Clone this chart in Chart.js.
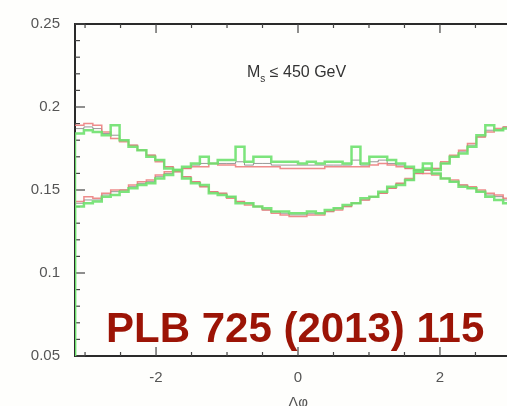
<!DOCTYPE html>
<html>
<head>
<meta charset="utf-8">
<script src="https://cdn.jsdelivr.net/npm/chart.js"></script>
<style>
html, body { margin: 0; padding: 0; background: #fefefc; overflow: hidden; }
#wrap { width: 507px; height: 406px; overflow: hidden; }
</style>
</head>
<body>
<div id="wrap"><canvas id="myChart" width="530" height="406"></canvas></div>
<script>
// delta phi histograms, 50 bins from -pi to pi
var nBins = 50;
var xTicks = [-2, 0, 2];
var yTicks = [0.05, 0.1, 0.15, 0.2, 0.25];

// U shaped distribution (high at |dphi| ~ pi)
var uGreen = [0.184, 0.186, 0.185, 0.183, 0.189, 0.180, 0.176, 0.174, 0.170, 0.168, 0.163, 0.162, 0.157, 0.154, 0.153, 0.148, 0.147, 0.146, 0.142, 0.142, 0.140, 0.139, 0.137, 0.137, 0.136,
              0.136, 0.137, 0.136, 0.138, 0.139, 0.141, 0.142, 0.145, 0.146, 0.149, 0.152, 0.153, 0.156, 0.161, 0.163, 0.162, 0.166, 0.170, 0.172, 0.176, 0.183, 0.189, 0.186, 0.187, 0.188];
var uRed = [0.189, 0.190, 0.189, 0.185, 0.181, 0.179, 0.177, 0.174, 0.171, 0.167, 0.164, 0.161, 0.158, 0.155, 0.152, 0.149, 0.148, 0.145, 0.143, 0.141, 0.140, 0.138, 0.136, 0.135, 0.134,
            0.134, 0.135, 0.135, 0.137, 0.138, 0.140, 0.142, 0.144, 0.146, 0.148, 0.151, 0.154, 0.157, 0.160, 0.162, 0.163, 0.167, 0.171, 0.174, 0.178, 0.182, 0.185, 0.187, 0.188, 0.189];
var uBlack = [0.187, 0.188, 0.187, 0.184, 0.183, 0.180, 0.177, 0.174, 0.171, 0.168, 0.164, 0.161, 0.158, 0.155, 0.152, 0.149, 0.148, 0.146, 0.143, 0.142, 0.140, 0.138, 0.137, 0.136, 0.135,
              0.135, 0.136, 0.136, 0.137, 0.139, 0.140, 0.142, 0.144, 0.146, 0.148, 0.151, 0.154, 0.156, 0.160, 0.162, 0.163, 0.166, 0.170, 0.173, 0.177, 0.182, 0.186, 0.186, 0.188, 0.188];

// flatter distribution (high around dphi ~ 0)
var bGreen = [0.140, 0.142, 0.143, 0.146, 0.147, 0.149, 0.151, 0.153, 0.154, 0.157, 0.159, 0.162, 0.164, 0.166, 0.170, 0.166, 0.168, 0.168, 0.176, 0.167, 0.170, 0.170, 0.167, 0.167, 0.167,
              0.166, 0.167, 0.166, 0.167, 0.167, 0.166, 0.176, 0.166, 0.170, 0.170, 0.168, 0.166, 0.164, 0.162, 0.166, 0.160, 0.157, 0.155, 0.152, 0.151, 0.149, 0.146, 0.144, 0.142, 0.141];
var bRed = [0.143, 0.146, 0.145, 0.148, 0.150, 0.150, 0.153, 0.155, 0.156, 0.159, 0.161, 0.162, 0.163, 0.164, 0.164, 0.166, 0.165, 0.165, 0.164, 0.164, 0.164, 0.164, 0.164, 0.163, 0.163,
            0.163, 0.163, 0.163, 0.164, 0.164, 0.164, 0.164, 0.164, 0.165, 0.166, 0.165, 0.164, 0.163, 0.162, 0.160, 0.159, 0.157, 0.156, 0.153, 0.152, 0.150, 0.148, 0.147, 0.145, 0.144];
var bBlack = [0.142, 0.144, 0.144, 0.147, 0.149, 0.150, 0.152, 0.154, 0.155, 0.158, 0.160, 0.162, 0.163, 0.165, 0.166, 0.166, 0.166, 0.166, 0.167, 0.165, 0.166, 0.166, 0.165, 0.165, 0.165,
              0.165, 0.165, 0.165, 0.165, 0.165, 0.165, 0.168, 0.165, 0.167, 0.168, 0.166, 0.165, 0.163, 0.162, 0.162, 0.160, 0.157, 0.155, 0.153, 0.151, 0.149, 0.147, 0.146, 0.144, 0.143];

var edges = [];
for (var i = 0; i <= nBins; i++) edges.push(-Math.PI + i * 2 * Math.PI / nBins);

// bin left edges + closing point, drawn as steps
function histo(vals, fromZero) {
  var pts = edges.map(function(x, i) { return { x: x, y: vals[Math.min(i, vals.length - 1)] }; });
  if (fromZero) pts.unshift({ x: edges[0], y: 0 });
  return pts;
}

function ds(vals, color, w, fromZero) {
  return { data: histo(vals, fromZero), borderColor: color, borderWidth: w, stepped: true, pointRadius: 0, fill: false };
}

var green = 'rgba(110,225,110,0.9)';
var red = 'rgba(235,120,120,0.85)';
var black = 'rgba(70,70,70,0.55)';

function tick(ctx, x1, y1, x2, y2) {
  ctx.beginPath(); ctx.moveTo(x1, y1); ctx.lineTo(x2, y2); ctx.stroke();
}

var frame = {
  id: 'frame',
  beforeDatasetsDraw: function(chart) {
    var ctx = chart.ctx, a = chart.chartArea;
    var xs = chart.scales.x, ys = chart.scales.y;
    ctx.save();
    ctx.strokeStyle = '#2a2a2a';
    ctx.lineWidth = 2;
    ctx.strokeRect(a.left, a.top, a.right - a.left, a.bottom - a.top);
    ctx.lineWidth = 1.2;
    ctx.strokeStyle = '#444';
    for (var k = 5; k <= 25; k++) {
      var py = ys.getPixelForValue(k / 100);
      var len = (k % 5 == 0) ? 10 : 5;
      tick(ctx, a.left, py, a.left + len, py);
      tick(ctx, a.right, py, a.right - len, py);
    }
    for (var k = -6; k <= 6; k++) {
      var px = xs.getPixelForValue(k / 2);
      var len = (k % 4 == 0) ? 9 : 4;
      tick(ctx, px, a.bottom, px, a.bottom - len);
      tick(ctx, px, a.top, px, a.top + len);
    }
    ctx.restore();
  },
  afterDraw: function(chart) {
    var ctx = chart.ctx;
    var xs = chart.scales.x;
    ctx.save();
    ctx.fillStyle = '#333';
    ctx.textBaseline = 'alphabetic';
    ctx.textAlign = 'left';
    ctx.font = '16px "Liberation Sans", Arial';
    ctx.fillText('M', 247, 77);
    var w = ctx.measureText('M').width;
    ctx.font = '10px "Liberation Sans", Arial';
    ctx.fillText('s', 247 + w, 82);
    var w2 = ctx.measureText('s').width;
    ctx.font = '16px "Liberation Sans", Arial';
    ctx.fillText(' \u2264 450 GeV', 247 + w + w2, 77);

    ctx.fillStyle = '#555';
    ctx.font = '15px "Liberation Sans", Arial';
    ctx.textAlign = 'center';
    ctx.textBaseline = 'top';
    ctx.fillText('\u0394\u03c6', xs.getPixelForValue(0), 395);

    ctx.fillStyle = '#9c1406';
    ctx.font = 'bold 42px "Liberation Sans", Arial';
    ctx.textAlign = 'left';
    ctx.textBaseline = 'alphabetic';
    ctx.fillText('PLB 725 (2013) 115', 106, 342);
    ctx.restore();
  }
};

Chart.defaults.font.family = '"Liberation Sans", Arial';

var config = {
  type: 'line',
  data: {
    datasets: [
      ds(uGreen, green, 2.5, true),
      ds(bGreen, green, 2.5, true),
      ds(uRed, red, 1.5, false),
      ds(bRed, red, 1.5, false),
      ds(uBlack, black, 1, false),
      ds(bBlack, black, 1, false)
    ]
  },
  options: {
    responsive: false,
    animation: false,
    layout: { padding: { left: 0, top: 21, right: 9, bottom: 0 } },
    plugins: { legend: { display: false }, tooltip: { enabled: false } },
    scales: {
      x: {
        type: 'linear',
        min: -Math.PI,
        max: Math.PI,
        afterBuildTicks: function(s) { s.ticks = xTicks.map(function(v) { return { value: v }; }); },
        afterFit: function(s) { s.height = 50; },
        grid: { display: false, drawTicks: false },
        border: { display: false },
        ticks: { color: '#555', font: { size: 15 }, padding: 13, maxRotation: 0 }
      },
      y: {
        min: 0.05,
        max: 0.25,
        afterBuildTicks: function(s) { s.ticks = yTicks.map(function(v) { return { value: v }; }); },
        afterFit: function(s) { s.width = 75; },
        grid: { display: false, drawTicks: false },
        border: { display: false },
        ticks: { color: '#555', font: { size: 15 }, padding: 15, autoSkip: false,
          callback: function(v) { return String(Math.round(v * 100) / 100); } }
      }
    }
  },
  plugins: [frame]
};

var myChart = new Chart(document.getElementById('myChart'), config);
</script>
</body>
</html>
